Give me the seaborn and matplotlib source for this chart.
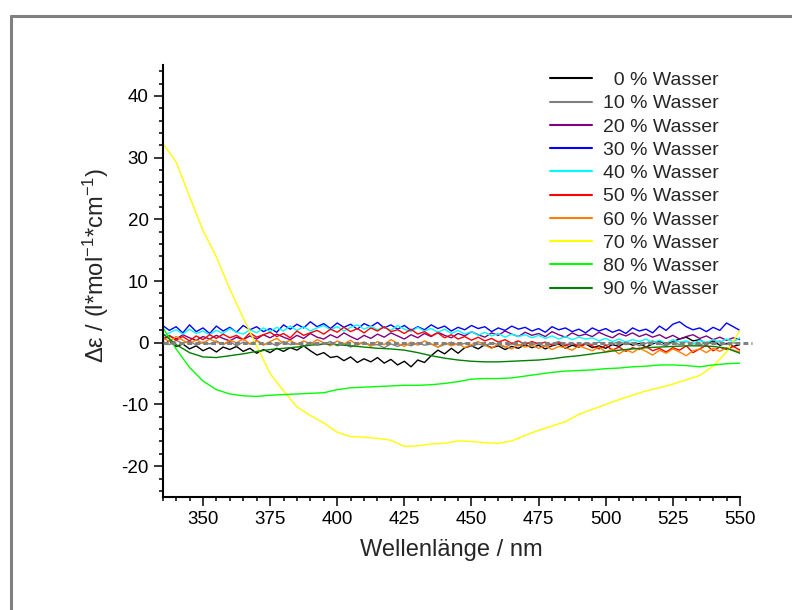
import numpy as np
import matplotlib
matplotlib.use("Agg")
import matplotlib.pyplot as plt
import seaborn as sns
from matplotlib.lines import Line2D
from matplotlib.ticker import MultipleLocator

# wavelength grids (nm)
wl_fine = np.arange(335, 550.1, 2.5)
wl_coarse = np.arange(335, 550.1, 5)

labels = ["  0 % Wasser", "10 % Wasser", "20 % Wasser", "30 % Wasser", "40 % Wasser",
          "50 % Wasser", "60 % Wasser", "70 % Wasser", "80 % Wasser", "90 % Wasser"]
colors = ["#000000", "#808080", "#800080", "#0000ff", "#00ffff",
          "#ff0000", "#ff8000", "#ffff00", "#00ff00", "#008000"]

# noisy spectra, 2.5 nm steps
w0 = [-0.4, 0.3, -0.6, -0.2, -1.0, -0.5, -1.3, -0.8,
      -1.5, -0.7, -1.1, -0.6, -1.4, -0.9, -1.7, -1.1,
      -1.6, -0.9, -1.4, -0.8, -1.2, -0.5, -1.3, -2.0,
      -1.6, -2.4, -2.2, -2.9, -2.3, -3.2, -2.6, -3.1,
      -2.4, -3.3, -2.7, -3.6, -3.0, -3.9, -2.8, -3.2,
      -2.1, -1.2, -1.8, -0.9, -1.7, -0.8, -0.5, -1.0,
      -0.3, -0.8, -0.5, -1.1, -0.6, -0.9, -0.3, -0.8,
      -0.4, -1.0, -0.5, -0.2, -0.9, -0.4, -0.7, -0.2,
      -0.8, -0.5, -0.9, -0.3, -0.6, 0.1, -0.4, -0.1,
      -0.7, -0.2, 0.3, -0.3, 0.2, 0.6, 0.9, 0.3,
      0.5, -0.2, 0.3, -0.4, -0.1, -0.6, -0.3]
w10 = [0.2, -0.3, 0.4, -0.1, 0.3, -0.4, 0.1, -0.2,
       0.3, -0.3, 0.2, -0.5, 0.1, -0.2, 0.4, -0.3,
       0.0, -0.5, 0.2, -0.3, -0.1, -0.6, 0.1, -0.4,
       -0.2, 0.2, -0.5, -0.1, -0.7, -0.2, 0.1, -0.4,
       -0.3, -0.8, -0.2, -0.6, -0.1, -0.5, 0.0, -0.4,
       -0.2, -0.7, -0.3, 0.1, -0.4, -0.1, -0.6, -0.2,
       -0.5, 0.0, -0.3, -0.7, -0.2, -0.5, 0.1, -0.3,
       -0.1, -0.6, -0.2, 0.2, -0.3, -0.1, -0.5, 0.0,
       -0.3, 0.1, -0.4, -0.2, 0.2, -0.3, 0.0, -0.5,
       -0.1, 0.3, -0.2, -0.5, 0.1, -0.3, 0.2, -0.1,
       -0.4, 0.1, -0.2, 0.3, -0.3, 0.0, -0.2]
w20 = [0.5, 1.1, 0.6, 1.3, 0.8, 0.4, 1.0, 0.6,
       1.2, 0.7, 0.3, 0.9, 0.5, 1.1, 0.6, 1.3,
       0.8, 1.4, 0.9, 0.5, 1.2, 0.7, 1.5, 0.9,
       0.6, 1.3, 0.8, 1.6, 1.0, 0.5, 1.2, 0.7,
       1.4, 0.9, 1.6, 1.1, 0.6, 1.3, 0.8, 1.5,
       1.0, 1.7, 1.2, 0.8, 1.5, 1.1, 1.8, 1.3,
       0.9, 1.6, 1.2, 1.9, 1.4, 1.0, 1.7, 1.2,
       1.5, 1.0, 1.8, 1.3, 0.9, 1.6, 1.1, 1.4,
       1.0, 1.7, 1.2, 0.8, 1.5, 1.1, 1.6, 1.0,
       1.4, 0.9, 1.3, 0.7, 1.2, 0.6, 1.0, 1.3,
       0.7, 1.1, 0.5, 0.9, 0.4, 0.8, 0.5]
w30 = [2.8, 2.0, 2.6, 1.6, 2.9, 1.8, 2.4, 1.5,
       2.7, 1.9, 2.5, 1.7, 2.8, 2.1, 2.6, 1.8,
       2.3, 1.7, 2.9, 2.2, 3.0, 2.4, 3.4, 2.6,
       3.1, 2.3, 3.2, 2.5, 3.0, 2.2, 3.1, 2.6,
       3.3, 2.4, 2.9, 2.2, 2.8, 2.0, 2.6, 2.1,
       2.9, 2.3, 2.7, 1.9, 2.5, 2.1, 2.8, 2.3,
       2.6, 1.8, 2.4, 2.0, 2.7, 2.2, 2.5, 1.9,
       2.3, 1.7, 2.6, 2.1, 2.4, 1.8, 2.2, 1.6,
       2.4, 1.9, 2.3, 1.7, 2.1, 1.5, 2.4, 1.9,
       2.2, 1.6, 2.7, 2.0, 3.0, 3.4, 2.6, 2.1,
       2.4, 1.8, 2.5, 2.0, 3.2, 2.6, 2.0]
w40 = [1.0, 1.6, 2.1, 1.4, 2.2, 1.5, 1.9, 1.3,
       2.0, 1.5, 2.3, 1.7, 1.4, 2.1, 1.6, 2.4,
       1.8, 2.5, 1.9, 2.7, 2.0, 2.6, 1.9, 2.4,
       2.8, 2.1, 2.6, 1.9, 2.5, 2.9, 2.2, 2.7,
       2.1, 2.6, 2.0, 2.8, 2.2, 1.8, 2.5, 1.9,
       2.3, 1.7, 2.2, 1.5, 2.0, 1.4, 1.8, 1.2,
       1.7, 1.1, 1.5, 0.9, 1.4, 1.0, 1.3, 0.8,
       1.2, 0.7, 1.1, 0.6, 1.0, 0.5, 0.9, 0.6,
       0.8, 0.3, 0.7, 0.2, 0.6, 0.1, 0.5, 0.2,
       0.6, 0.0, 0.4, -0.1, 0.5, 0.1, 0.3, -0.2,
       0.4, 0.0, 0.5, 0.1, 0.6, 0.2, 0.8]
w50 = [0.6, 1.2, 0.4, 1.0, 0.3, 1.1, 0.5, 1.3,
       0.7, 1.4, 0.8, 1.2, 0.5, 1.6, 0.9, 1.3,
       1.7, 1.0, 1.5, 0.8, 1.9, 1.2, 1.6, 2.0,
       1.4, 2.2, 1.7, 2.5, 1.8, 2.3, 1.6, 2.4,
       1.9, 2.6, 1.8, 2.1, 1.5, 2.2, 1.4, 1.8,
       1.1, 1.6, 0.8, 1.3, 0.6, 1.0, 0.4, 0.9,
       0.3, 0.7, 0.1, 0.5, -0.1, 0.3, -0.3, 0.2,
       -0.2, 0.1, -0.4, 0.0, -0.5, -0.1, -0.6, -0.2,
       -0.5, -1.0, -0.4, -1.2, -0.7, -1.4, -0.8, -1.1,
       -0.6, -1.3, -0.9, -1.5, -0.8, -1.2, -0.5, -1.6,
       -1.0, -0.4, -1.3, -0.7, -1.1, -0.6, -1.2]
w60 = [0.8, 0.2, 1.0, 0.4, -0.2, 0.5, -0.1, 0.6,
       0.1, -0.3, 0.4, 0.0, 0.6, -0.2, 0.3, -0.4,
       0.2, 0.7, -0.1, 0.4, -0.3, 0.3, -0.2, 0.5,
       0.0, -0.5, 0.3, -0.2, 0.4, -0.4, 0.1, -0.6,
       0.2, -0.3, 0.5, -0.1, -0.6, 0.1, -0.4, 0.3,
       -0.2, -0.7, 0.0, -0.5, -0.1, -0.8, -0.3, 0.2,
       -0.4, -0.9, -0.2, -0.6, -1.0, -0.3, -0.7, -0.4,
       -0.9, -0.5, -1.1, -0.6, -0.8, -1.2, -0.5, -0.9,
       -1.3, -0.7, -1.5, -1.0, -1.8, -1.1, -1.6, -0.9,
       -1.4, -2.0, -1.2, -1.7, -1.0, -1.5, -2.1, -1.3,
       -1.0, -1.6, -0.9, -1.4, -0.8, -1.2, -1.5]

# smoother spectra, 5 nm steps
w70 = [32.3, 29.3, 23.7, 18.2, 13.9, 8.7, 4.0, -0.5, -5.0, -7.8,
       -10.4, -11.8, -13.0, -14.5, -15.2, -15.3, -15.5, -15.8, -16.8, -16.7,
       -16.4, -16.3, -15.9, -16.0, -16.2, -16.3, -15.9, -15.0, -14.2, -13.5,
       -12.8, -11.6, -10.8, -10.0, -9.2, -8.5, -7.8, -7.3, -6.7, -6.0,
       -5.3, -3.8, -1.5, 2.0]
w80 = [2.5, -1.0, -4.0, -6.2, -7.6, -8.3, -8.6, -8.7, -8.5, -8.4,
       -8.3, -8.2, -8.1, -7.6, -7.3, -7.2, -7.1, -7.0, -6.9, -6.9,
       -6.8, -6.6, -6.3, -5.9, -5.8, -5.8, -5.7, -5.4, -5.1, -4.8,
       -4.6, -4.5, -4.4, -4.2, -4.1, -3.9, -3.8, -3.6, -3.6, -3.7,
       -3.9, -3.6, -3.4, -3.3]
w90 = [1.5, -0.3, -1.6, -2.3, -2.4, -2.1, -1.8, -1.4, -1.1, -0.9,
       -0.7, -0.4, -0.2, -0.3, -0.5, -0.7, -0.9, -1.0, -1.2, -1.6,
       -2.1, -2.5, -2.8, -3.0, -3.1, -3.1, -3.0, -2.9, -2.8, -2.6,
       -2.3, -2.1, -1.8, -1.5, -1.2, -1.0, -0.8, -0.7, -0.6, -0.5,
       -0.5, -0.6, -0.9, -1.7]

series = [w0, w10, w20, w30, w40, w50, w60, w70, w80, w90]

sns.set_style("white")
plt.rcParams["font.family"] = ["Liberation Sans", "DejaVu Sans"]
plt.rcParams["mathtext.fontset"] = "custom"
plt.rcParams["mathtext.rm"] = "Liberation Sans"
plt.rcParams["mathtext.it"] = "Liberation Sans:italic"
plt.rcParams["mathtext.default"] = "regular"
plt.rcParams["axes.unicode_minus"] = False

fig = plt.figure(figsize=(7.92, 6.10), dpi=100)
ax = fig.add_axes([0.2054, 0.1852, 0.7289, 0.7082])

for vals, lab, col in zip(series, labels, colors):
    xs = wl_fine if len(vals) == len(wl_fine) else wl_coarse
    sns.lineplot(x=xs, y=vals, color=col, lw=1.0, label=lab, ax=ax,
                 estimator=None, sort=False)

# baseline
ax.axhline(0, xmin=0, xmax=1.021, color="#808080", lw=2.2,
           dashes=(1.6, 1.0), clip_on=False, zorder=5)

ax.set_xlim(335, 550)
ax.set_ylim(-25, 45)
ax.xaxis.set_major_locator(MultipleLocator(25))
ax.xaxis.set_minor_locator(MultipleLocator(5))
ax.yaxis.set_major_locator(MultipleLocator(10))
ax.yaxis.set_minor_locator(MultipleLocator(2))

sns.despine(ax=ax)
for side in ["left", "bottom"]:
    ax.spines[side].set_linewidth(1.5)
    ax.spines[side].set_color("black")
ax.tick_params(which="major", direction="out", length=6.7, width=1.1,
               labelsize=13.5, pad=3.5, left=True, bottom=True, colors="black")
ax.tick_params(which="minor", direction="out", length=3.2, width=1.1,
               left=True, bottom=True, colors="black")

ax.set_xlabel("Wellenlänge / nm", fontsize=17)
ax.xaxis.set_label_coords(0.5, -0.097)
ax.set_ylabel("Δε / (l*mol$^{-1}$*cm$^{-1}$)", fontsize=17)
ax.yaxis.set_label_coords(-0.09, 0.537)

ax.legend(loc="upper left", bbox_to_anchor=(0.671, 0.985), frameon=False,
          fontsize=14, handlelength=2.15, handletextpad=0.57,
          labelspacing=0.29, borderaxespad=0, borderpad=0)
for line in ax.get_legend().get_lines():
    line.set_linewidth(1.5)

# frame of the original screenshot
fig.add_artist(Line2D([0.0139, 1.0], [0.974, 0.974], color="#808080", lw=2.2,
                      transform=fig.transFigure))
fig.add_artist(Line2D([0.0139, 0.0139], [0.0, 0.974], color="#808080", lw=2.2,
                      transform=fig.transFigure))

fig.savefig("out.png", dpi=100)
